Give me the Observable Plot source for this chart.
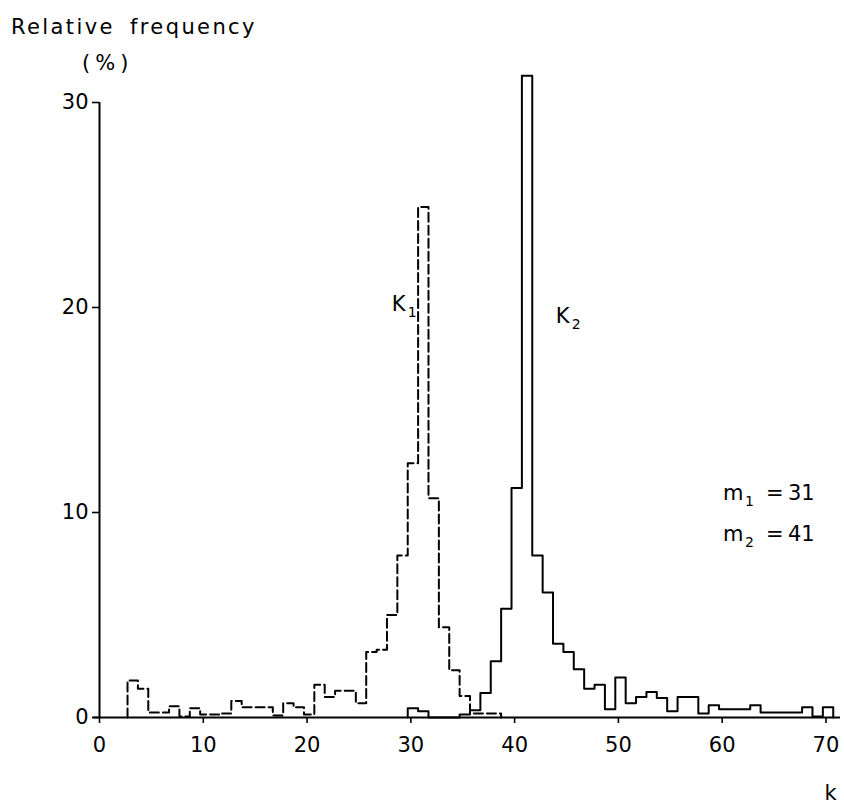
<!DOCTYPE html>
<html><head><meta charset="utf-8">
<script src="https://cdn.jsdelivr.net/npm/d3@7"></script>
<script src="https://cdn.jsdelivr.net/npm/@observablehq/plot@0.6"></script>
<style>
body{margin:0;background:#fff;}
#chart{width:844px;height:805px;}
</style></head><body><div id="chart"></div>
<script>
// K1 distribution (dashed), k = integer class, value = relative frequency (%)
const k1 = [3,4,5,6,7,8,9,10,11,12,13,14,15,16,17,18,19,20,21,22,23,24,25,26,27,28,29,30,31,32,33,34,35,36,37,38];
const f1 = [1.8,1.4,0.25,0.25,0.55,0.05,0.45,0.15,0.15,0.2,0.8,0.5,0.5,0.5,0.1,0.7,0.5,0.15,1.6,1.0,1.3,1.3,0.7,3.2,3.3,5.0,7.9,12.4,24.9,10.7,4.4,2.3,1.05,0.2,0.2,0.2];
// K2 distribution (solid)
const k2 = [30,31,32,33,34,35,36,37,38,39,40,41,42,43,44,45,46,47,48,49,50,51,52,53,54,55,56,57,58,59,60,61,62,63,64,65,66,67,68,69,70];
const f2 = [0.45,0.3,0,0,0,0.15,0.35,1.2,2.75,5.3,11.2,31.3,7.9,6.1,3.6,3.2,2.35,1.4,1.6,0.4,1.95,0.7,1.0,1.25,0.95,0.3,1.0,1.0,0.2,0.6,0.4,0.4,0.4,0.6,0.25,0.25,0.25,0.25,0.5,0.05,0.5];
const xTicks = [0,10,20,30,40,50,60,70];
const yTicks = [0,10,20,30];

// class k is drawn as a bar from k-0.3 to k+0.7 (as in the drawing)
function outline(ks, vs) {
  const pts = [{x: ks[0] - 0.3, y: 0}];
  ks.forEach((k, i) => pts.push({x: k - 0.3, y: vs[i]}));
  pts.push({x: ks[ks.length - 1] + 0.7, y: 0});
  return pts;
}

const font = "DejaVu Sans";
const plot = Plot.plot({
  width: 844, height: 805,
  marginLeft: 99, marginRight: 4, marginTop: 61, marginBottom: 88,
  x: {domain: [0, 71.4]},
  y: {domain: [0, 32]},
  style: {fontFamily: font, fontSize: "21px", color: "#000", background: "#fff"},
  marks: [
    Plot.axisX({ticks: xTicks, tickSize: 6, tickPadding: 14, label: null, fontSize: 21, strokeWidth: 1.6}),
    Plot.axisY({ticks: yTicks, tickSize: 7, tickPadding: 4, label: null, fontSize: 21, strokeWidth: 1.6}),
    Plot.ruleY([0], {x1: -0.6, x2: 71.4, strokeWidth: 2}),
    Plot.ruleX([0], {y1: 0, y2: 30, strokeWidth: 2}),
    Plot.line(outline(k1, f1), {x: "x", y: "y", curve: "step-after", strokeDasharray: "9,4", strokeWidth: 2, stroke: "#000"}),
    Plot.line(outline(k2, f2), {x: "x", y: "y", curve: "step-after", strokeWidth: 2, stroke: "#000"})
  ]
});
document.getElementById("chart").appendChild(plot);

const svg = d3.select(plot);
const xs = plot.scale("x"), ys = plot.scale("y");
function txt(x, y, s, size, extra) {
  const t = svg.append("text").attr("x", x).attr("y", y).attr("font-family", font)
    .attr("text-anchor", "start").attr("font-size", size).attr("fill", "#000").text(s);
  if (extra) extra(t);
  return t;
}
// axis titles
txt(11, 34, "Relative frequency", 21, t => t.attr("letter-spacing", "2.4px").attr("word-spacing", "6px"));
txt(82, 70, "(%)", 21, t => t.attr("letter-spacing", "5px"));
txt(xs.apply(69.9), 800, "k", 21);
// series labels with subscripts
function subLabel(xv, yv, main, sub) {
  const x = xs.apply(xv), y = ys.apply(yv);
  txt(x, y, main, 21);
  txt(x + 16, y + 6, sub, 14);
}
subLabel(28.2, 19.8, "K", "1");
subLabel(44.0, 19.2, "K", "2");
// parameter notes
function mLabel(yv, sub, val) {
  const y = ys.apply(yv);
  txt(723, y, "m", 21);
  txt(745, y + 6, sub, 14);
  txt(766, y, "=", 21);
  txt(788, y, val, 21);
}
mLabel(10.6, "1", "31");
mLabel(8.6, "2", "41");
</script></body></html>
